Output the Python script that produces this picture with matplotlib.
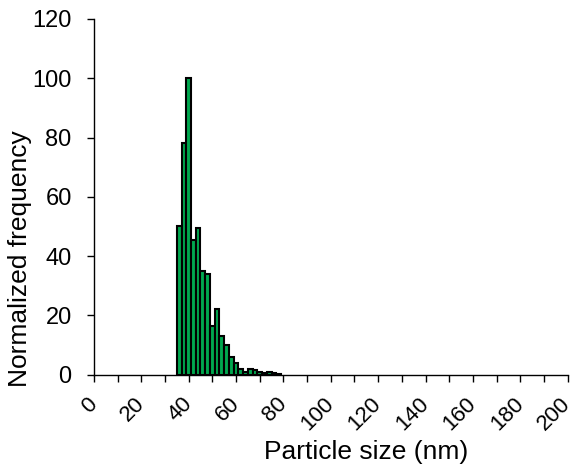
import numpy as np
import matplotlib
matplotlib.use("Agg")
import matplotlib.pyplot as plt

plt.rcParams["font.family"] = ["Liberation Sans", "DejaVu Sans"]

# bin centres (nm) and normalised frequency
size_nm = [36, 38, 40, 42, 44, 46, 48, 50, 52, 54, 56,
           58, 60, 62, 64, 66, 68, 70, 72, 74, 76, 78]
freq = [50, 78, 100, 45.5, 49.5, 35, 34, 16.5, 22, 13, 10,
        6, 4, 2, 1, 2, 1.5, 1, 0.7, 1, 0.5, 0.3]
x_ticks = list(range(0, 201, 10))
y_ticks = list(range(0, 121, 20))

fig = plt.figure(figsize=(5.76, 4.70), dpi=100)
ax = fig.add_axes([0.163, 0.2028, 0.8226, 0.7568])

ax.bar(size_nm, freq, width=2, color="#00A84F", edgecolor="black",
       linewidth=1.5, align="center")

ax.set_xlim(0, 200)
ax.set_ylim(0, 120)
ax.set_xticks(x_ticks)
ax.set_xticklabels([str(v) if v % 20 == 0 else "" for v in x_ticks],
                   rotation=45, ha="right", va="center",
                   rotation_mode="anchor", fontsize=16)
ax.set_yticks(y_ticks)
ax.set_yticklabels([str(v) for v in y_ticks], fontsize=17)

ax.spines["top"].set_visible(False)
ax.spines["right"].set_visible(False)
for s in ("left", "bottom"):
    ax.spines[s].set_linewidth(1.0)
ax.tick_params(axis="x", direction="out", length=5, width=1.0, pad=14)
ax.tick_params(axis="y", direction="out", length=5, width=1.0, pad=11)

ax.set_xlabel("Particle size (nm)", fontsize=19)
ax.set_ylabel("Normalized frequency", fontsize=19)
ax.xaxis.set_label_coords(0.575, -0.185)
ax.yaxis.set_label_coords(-0.13, 0.325)

fig.savefig("out.png", dpi=100, facecolor="white")
